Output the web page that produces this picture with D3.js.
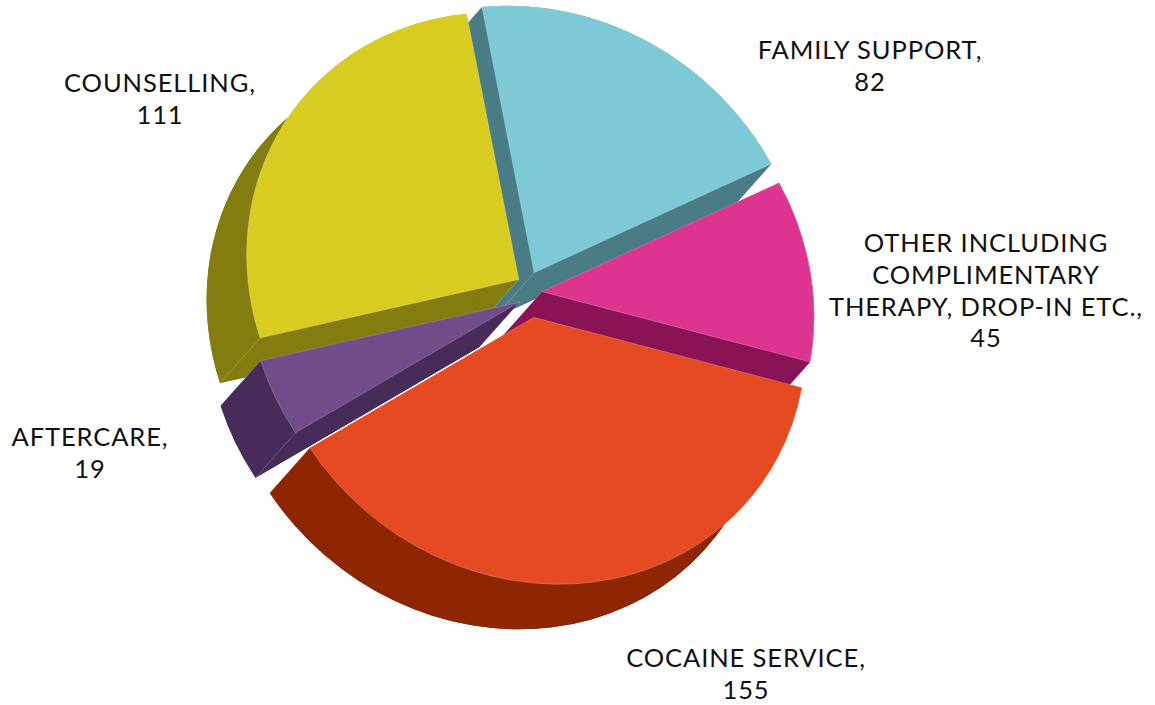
<!DOCTYPE html>
<html>
<head>
<meta charset="utf-8">
<script src="https://cdn.jsdelivr.net/npm/d3@7"></script>
<style>
  html, body { margin: 0; padding: 0; background: #fff; }
  text { font-family: Lato, 'Noto Sans', sans-serif; fill: #111; }
</style>
</head>
<body>
<div id="chart"></div>
<script>
// data
const categories = ['FAMILY SUPPORT', 'OTHER INCLUDING COMPLIMENTARY THERAPY, DROP-IN ETC.', 'COCAINE SERVICE', 'AFTERCARE', 'COUNSELLING']
const values = [82, 45, 155, 19, 111]
const labelLines = [
  ['FAMILY SUPPORT,', '82'],
  ['OTHER INCLUDING', 'COMPLIMENTARY', 'THERAPY, DROP-IN ETC.,', '45'],
  ['COCAINE SERVICE,', '155'],
  ['AFTERCARE,', '19'],
  ['COUNSELLING,', '111']
]
const topColors = ['#7dcad6', '#dd358f', '#e64a23', '#734d89', '#d9cc20']
const sideColors = ['#4a7c86', '#8a1356', '#8e2604', '#472b59', '#837c0e']

const width = 1155
const height = 705
const cx = 530
const cy = 293.5
const radius = 267
const explodeX = 12
const explodeY = 24
const sx = 1.015 // slight perspective: horizontal stretch + shear of the top plane
const shear = 0.095
const depthScreen = [-40, 45] // oblique extrusion, screen px
const depth = [(depthScreen[0] - shear * depthScreen[1]) / sx, depthScreen[1]]
const rad = Math.PI / 180
const start = -5.7

const svg = d3.select('#chart')
  .append('svg')
  .attr('width', width)
  .attr('height', height)

const plane = svg.append('g')
  .attr('transform', `translate(${cx},${cy}) matrix(${sx},0,${shear},1,0,0)`)

const pie = d3.pie()
  .sort(null)
  .startAngle(start * rad)
  .endAngle((start + 360) * rad)
  .value(d => d)

const arcs = pie(values).map((d, i) => {
  const mid = (d.startAngle + d.endAngle) / 2
  d.i = i
  d.ox = explodeX * Math.sin(mid)
  d.oy = -explodeY * Math.cos(mid)
  // how far toward the viewer (down-left) this slice sits
  d.z = -Math.sin(mid) * 0.66 - Math.cos(mid) * 0.75
  return d
})

const pt = (x, y, a, r) => [x + r * Math.sin(a), y - r * Math.cos(a)]

const sector = d3.arc().innerRadius(0).outerRadius(radius)

const order = arcs.slice().sort((a, b) => a.z - b.z)

order.forEach(d => {
  const g = plane.append('g').attr('class', 'slice')
  const bx = d.ox + depth[0]
  const by = d.oy + depth[1]
  const side = sideColors[d.i]
  const large = d.endAngle - d.startAngle > Math.PI ? 1 : 0

  // bottom face
  g.append('path')
    .attr('d', sector(d))
    .attr('transform', `translate(${bx},${by})`)
    .attr('fill', side)

  // radial walls
  ;[d.startAngle, d.endAngle].forEach(a => {
    const p1 = pt(d.ox, d.oy, a, radius)
    const p2 = pt(bx, by, a, radius)
    g.append('path')
      .attr('d', `M${d.ox},${d.oy}L${p1}L${p2}L${bx},${by}Z`)
      .attr('fill', side)
  })

  // outer wall
  const a0 = pt(d.ox, d.oy, d.startAngle, radius)
  const a1 = pt(d.ox, d.oy, d.endAngle, radius)
  const b0 = pt(bx, by, d.startAngle, radius)
  const b1 = pt(bx, by, d.endAngle, radius)
  g.append('path')
    .attr('d', `M${a0}A${radius},${radius} 0 ${large} 1 ${a1}L${b1}A${radius},${radius} 0 ${large} 0 ${b0}Z`)
    .attr('fill', side)

  // faint edges
  ;[[d.ox, d.oy, bx, by], [a0[0], a0[1], b0[0], b0[1]], [a1[0], a1[1], b1[0], b1[1]]].forEach(e => {
    g.append('line')
      .attr('x1', e[0]).attr('y1', e[1])
      .attr('x2', e[2]).attr('y2', e[3])
      .attr('stroke', 'rgba(255,255,255,0.3)')
      .attr('stroke-width', 0.7)
  })

  // top face
  g.append('path')
    .attr('d', sector(d))
    .attr('transform', `translate(${d.ox},${d.oy})`)
    .attr('fill', topColors[d.i])
    .attr('stroke', 'rgba(255,255,255,0.35)')
    .attr('stroke-width', 0.6)
})

/* labels */
const labelPos = [
  [870, 59],
  [986, 252],
  [746, 667],
  [90, 446],
  [160, 92]
]
const lineH = 31.8

labelLines.forEach((lines, i) => {
  const t = svg.append('text')
    .attr('text-anchor', 'middle')
    .attr('x', labelPos[i][0])
    .attr('y', labelPos[i][1])
    .style('font-size', '25.5px')
    .style('letter-spacing', '0.9px')
  lines.forEach((l, j) => {
    t.append('tspan')
      .attr('x', labelPos[i][0])
      .attr('dy', j === 0 ? 0 : lineH)
      .text(l)
  })
})
</script>
</body>
</html>
